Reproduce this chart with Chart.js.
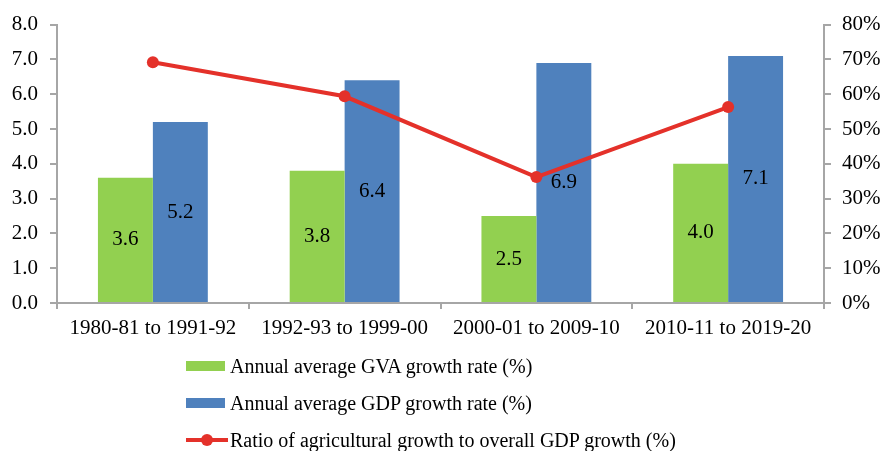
<!DOCTYPE html>
<html>
<head>
<meta charset="utf-8">
<script src="https://cdn.jsdelivr.net/npm/chart.js@4.4.0/dist/chart.umd.min.js"></script>
<style>
  body { margin: 0; background: #fff; }
  #wrap { position: relative; width: 884px; height: 451px; }
  .leg { position: absolute; left: 186px; font: 20px "Liberation Serif", "Times New Roman", serif; line-height: 20px; color: #000; white-space: nowrap; }
  .leg .sw { position: absolute; left: 0; top: 5px; width: 39px; height: 10px; }
  .leg .ln { position: absolute; left: 0; top: 8px; width: 42px; height: 4px; background: #E4312A; }
  .leg .dot { position: absolute; left: 15px; top: 4px; width: 12px; height: 12px; border-radius: 50%; background: #E4312A; }
  .leg span.t { position: absolute; left: 44px; top: 0; }
</style>
</head>
<body>
<div id="wrap">
  <canvas id="chart" width="884" height="451"></canvas>
  <div class="leg" style="top:356px"><div class="sw" style="background:#92D050"></div><span class="t">Annual average GVA growth rate (%)</span></div>
  <div class="leg" style="top:393px"><div class="sw" style="background:#4F81BD"></div><span class="t">Annual average GDP growth rate (%)</span></div>
  <div class="leg" style="top:430px"><div class="ln"></div><div class="dot"></div><span class="t">Ratio of agricultural growth to overall GDP growth (%)</span></div>
</div>
<script>
const periods = ['1980-81 to 1991-92', '1992-93 to 1999-00', '2000-01 to 2009-10', '2010-11 to 2019-20'];
const gvaGrowth = [3.6, 3.8, 2.5, 4.0];
const gdpGrowth = [5.2, 6.4, 6.9, 7.1];
const agriRatio = [69.2, 59.4, 36.2, 56.3];

const axisGray = '#A6A6A6';
const serif = '"Liberation Serif", "Times New Roman", serif';

// write bar values in the middle of each bar
const barValues = {
  id: 'barValues',
  afterDatasetsDraw(chart) {
    const ctx = chart.ctx;
    ctx.save();
    ctx.font = '21px ' + serif;
    ctx.fillStyle = '#000';
    ctx.textAlign = 'center';
    ctx.textBaseline = 'middle';
    chart.data.datasets.forEach((ds, i) => {
      if (ds.type !== 'bar') return;
      chart.getDatasetMeta(i).data.forEach((bar, j) => {
        ctx.fillText(ds.data[j].toFixed(1), bar.x, (bar.y + bar.base) / 2);
      });
    });
    ctx.restore();
  }
};

new Chart(document.getElementById('chart'), {
  data: {
    labels: periods,
    datasets: [
      {
        type: 'line',
        label: 'Ratio of agricultural growth to overall GDP growth (%)',
        data: agriRatio,
        yAxisID: 'y1',
        borderColor: '#E4312A',
        backgroundColor: '#E4312A',
        borderWidth: 4,
        pointRadius: 6,
        pointBackgroundColor: '#E4312A',
        pointBorderWidth: 0,
        order: 0
      },
      {
        type: 'bar',
        label: 'Annual average GVA growth rate (%)',
        data: gvaGrowth,
        yAxisID: 'y',
        backgroundColor: '#92D050',
        order: 1
      },
      {
        type: 'bar',
        label: 'Annual average GDP growth rate (%)',
        data: gdpGrowth,
        yAxisID: 'y',
        backgroundColor: '#4F81BD',
        order: 1
      }
    ]
  },
  options: {
    responsive: false,
    animation: false,
    datasets: { bar: { categoryPercentage: 0.573, barPercentage: 1 } },
    layout: { padding: { top: 22, left: 0, right: 0, bottom: 0 } },
    plugins: {
      legend: { display: false },
      tooltip: { enabled: false }
    },
    scales: {
      x: {
        grid: { offset: true, drawOnChartArea: false, color: axisGray, tickLength: 6, lineWidth: 2 },
        border: { color: axisGray, width: 2 },
        ticks: { color: '#000', font: { family: serif, size: 21 }, padding: 7, maxRotation: 0 },
        afterFit(scale) { scale.height = 148; }
      },
      y: {
        position: 'left',
        min: 0, max: 8,
        grid: { drawOnChartArea: false, color: axisGray, tickLength: 7, lineWidth: 2 },
        border: { color: axisGray, width: 2 },
        ticks: { stepSize: 1, color: '#000', font: { family: serif, size: 21 }, padding: 12,
          callback: v => v.toFixed(1) },
        afterFit(scale) { scale.width = 57; }
      },
      y1: {
        position: 'right',
        min: 0, max: 80,
        grid: { drawOnChartArea: false, color: axisGray, tickLength: 7, lineWidth: 2 },
        border: { color: axisGray, width: 2 },
        ticks: { stepSize: 10, color: '#000', font: { family: serif, size: 21 }, padding: 11,
          callback: v => v + '%' },
        afterFit(scale) { scale.width = 60; }
      }
    }
  },
  plugins: [barValues]
});
</script>
</body>
</html>
